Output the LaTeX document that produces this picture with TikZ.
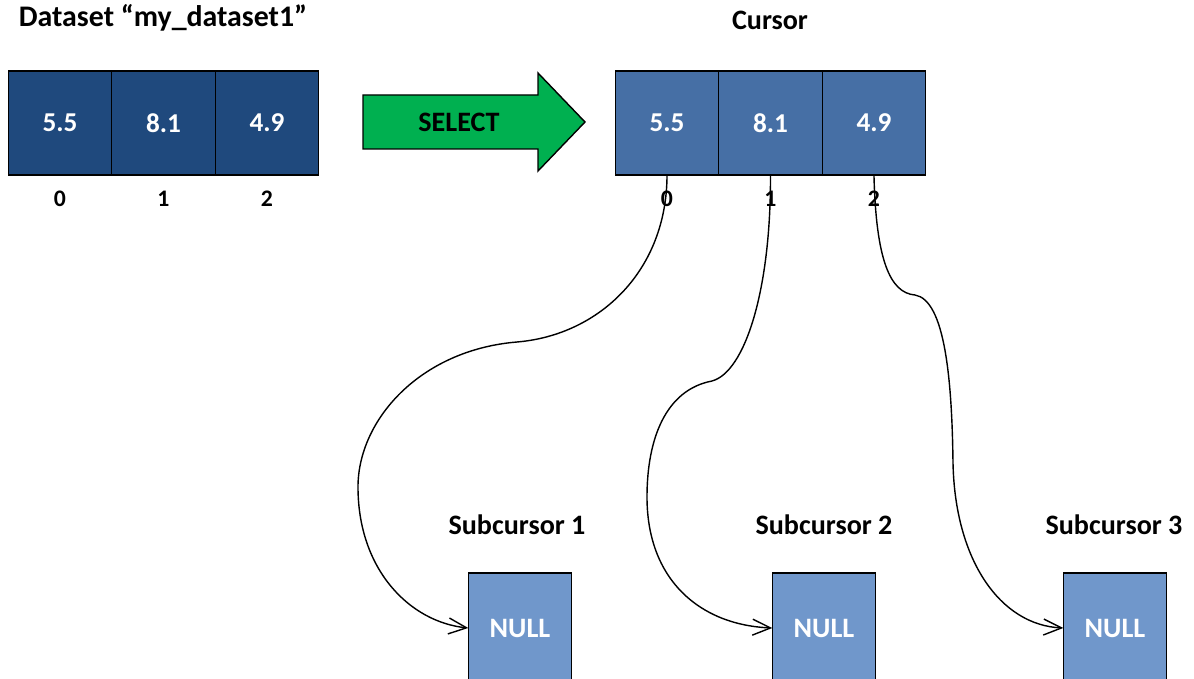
\documentclass[tikz,border=0pt]{standalone}
\usepackage{fontspec}
\setmainfont{Carlito}
\usetikzlibrary{positioning,arrows.meta}

\definecolor{dsblue}{RGB}{31,73,125}
\definecolor{curblue}{RGB}{70,111,165}
\definecolor{nullblue}{RGB}{112,151,203}
\definecolor{selgreen}{RGB}{0,176,80}

\tikzset{
	cell/.style={draw=black, line width=0.8pt, minimum width=2.07cm, minimum height=2.08cm, outer sep=0pt, inner sep=0pt, text=white, font=\fontsize{15.5}{18}\selectfont\bfseries},
	dscell/.style={cell, fill=dsblue},
	curcell/.style={cell, fill=curblue},
	nullbox/.style={cell, fill=nullblue, minimum height=2.2cm, font=\fontsize{16}{19}\selectfont\bfseries},
	idx/.style={font=\fontsize{13.5}{16}\selectfont\bfseries},
	ttl/.style={font=\fontsize{16}{19}\selectfont\bfseries},
	link/.style={-{Straight Barb[length=3.6mm,width=3.2mm]}, line width=0.8pt},
}

\begin{document}
\begin{tikzpicture}[x=0.02cm, y=-0.02cm]
	\useasboundingbox (0, 0) rectangle (1194, 679);

	% dataset
	\node[ttl, font=\fontsize{17}{20}\selectfont\bfseries] (dstitle) at (163, 18) {Dataset “my\_dataset1”};
	\node[dscell] (d0) at (60, 123) {5.5};
	\node[dscell, right=0pt of d0] (d1) {8.1};
	\node[dscell, right=0pt of d1] (d2) {4.9};
	\node[idx, yshift=-0.48cm] (di0) at (d0.south) {0};
	\node[idx, yshift=-0.48cm] (di1) at (d1.south) {1};
	\node[idx, yshift=-0.48cm] (di2) at (d2.south) {2};

	% select arrow
	\draw[fill=selgreen, line width=0.8pt] (363, 95) -- (538, 95) -- (538, 73) -- (585, 122)
		-- (538, 171) -- (538, 149) -- (363, 149) -- cycle;
	\node[ttl] (sel) at (459, 122) {SELECT};

	% cursor
	\node[ttl] (ctitle) at (770, 20) {Cursor};
	\node[curcell] (c0) at (667, 123) {5.5};
	\node[curcell, right=0pt of c0] (c1) {8.1};
	\node[curcell, right=0pt of c1] (c2) {4.9};
	\node[idx, yshift=-0.48cm] (ci0) at (c0.south) {0};
	\node[idx, yshift=-0.48cm] (ci1) at (c1.south) {1};
	\node[idx, yshift=-0.48cm] (ci2) at (c2.south) {2};

	% subcursors
	\node[ttl] (st1) at (517, 525) {Subcursor 1};
	\node[ttl] (st2) at (824, 525) {Subcursor 2};
	\node[ttl] (st3) at (1114, 525) {Subcursor 3};
	\node[nullbox] (s1) at (520, 628) {NULL};
	\node[nullbox] (s2) at (824, 628) {NULL};
	\node[nullbox] (s3) at (1115, 628) {NULL};

	\draw[link] (c0.south) .. controls (667, 270) and (600, 335) .. (517, 342)
		.. controls (420, 350) and (358, 420) .. (358, 487)
		.. controls (358, 570) and (410, 622) .. (s1.west);
	\draw[link] (c1.south) .. controls (771, 290) and (745, 372) .. (712, 381)
		.. controls (665, 390) and (647, 440) .. (647, 497)
		.. controls (647, 580) and (700, 625) .. (s2.west);
	\draw[link] (c2.south) .. controls (876, 260) and (890, 293) .. (915, 295)
		.. controls (945, 300) and (952, 380) .. (953, 463)
		.. controls (955, 560) and (1000, 625) .. (s3.west);
\end{tikzpicture}
\end{document}
